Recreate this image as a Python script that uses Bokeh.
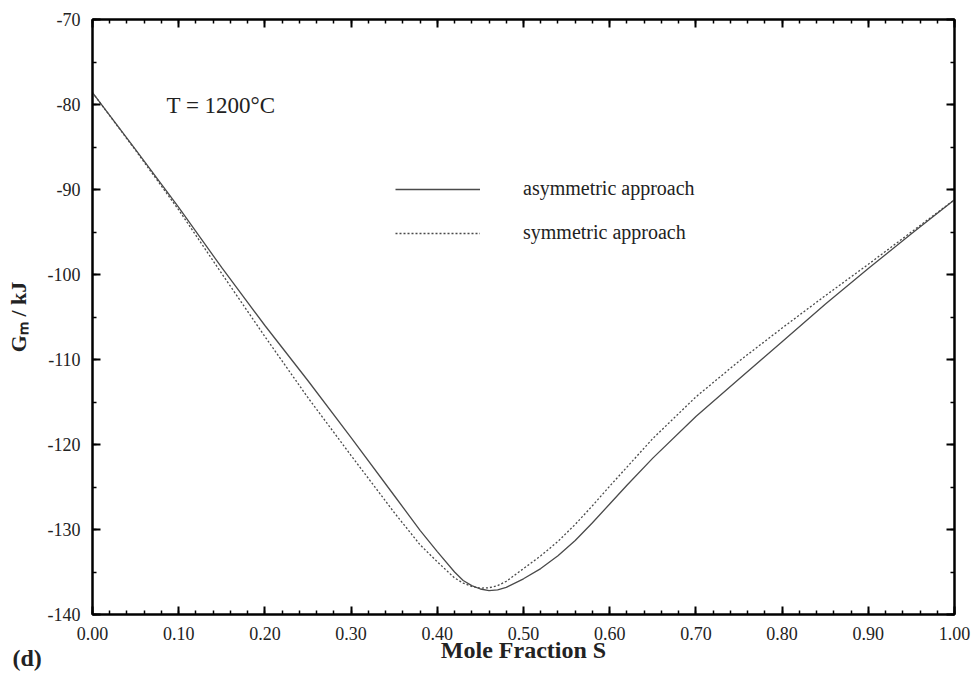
import numpy as np
from bokeh.plotting import figure
from bokeh.models import (Range1d, LinearAxis, SingleIntervalTicker, NumeralTickFormatter,
                          CustomJSTickFormatter, Label, Legend, LegendItem, Title)
from bokeh.embed import file_html
from bokeh.resources import INLINE

# ---- data ----
x_asym = [0.00, 0.05, 0.10, 0.15, 0.20, 0.25, 0.30, 0.35, 0.38, 0.40, 0.42, 0.43, 0.44, 0.45,
          0.46, 0.47, 0.48, 0.50, 0.52, 0.54, 0.56, 0.58, 0.60, 0.62, 0.65, 0.70, 0.75, 0.80,
          0.85, 0.90, 0.95, 1.00]
g_asym = [-78.6, -85.3, -92.1, -99.2, -106.0, -112.5, -119.2, -126.0, -130.1, -132.6, -135.0,
          -136.0, -136.6, -137.0, -137.2, -137.1, -136.8, -135.8, -134.6, -133.1, -131.3,
          -129.2, -127.0, -124.8, -121.6, -116.7, -112.3, -107.9, -103.5, -99.3, -95.2, -91.2]
x_sym = [0.00, 0.05, 0.10, 0.15, 0.20, 0.25, 0.30, 0.35, 0.38, 0.40, 0.42, 0.43, 0.44, 0.45,
         0.46, 0.47, 0.48, 0.50, 0.52, 0.54, 0.56, 0.58, 0.60, 0.65, 0.70, 0.75, 0.80, 0.85,
         0.90, 0.95, 1.00]
g_sym = [-78.6, -85.4, -92.4, -99.9, -107.3, -114.5, -121.3, -128.0, -131.8, -133.8, -135.7,
         -136.3, -136.7, -136.9, -136.85, -136.6, -136.1, -134.6, -133.1, -131.4, -129.4,
         -127.2, -124.9, -119.3, -114.4, -110.2, -106.3, -102.5, -98.8, -95.0, -91.2]
series_names = ["asymmetric approach", "symmetric approach"]
x_title = "Mole Fraction S"
y_title = "G\u2098 / kJ"
temp_text = "T = 1200°C"
panel_tag = "(d)"

SERIF = "Liberation Serif"

p = figure(width=979, height=674, output_backend="svg", toolbar_location=None,
           x_range=Range1d(0, 1), y_range=Range1d(-140, -70),
           min_border_left=92, min_border_right=25, min_border_top=19, min_border_bottom=60)
p.grid.visible = False
p.background_fill_color = "white"
p.border_fill_color = "white"
p.outline_line_color = "black"
p.outline_line_width = 2

xt = SingleIntervalTicker(interval=0.1, num_minor_ticks=5)
yt = SingleIntervalTicker(interval=10, num_minor_ticks=2)

def style(ax):
    ax.axis_line_color = "black"
    ax.axis_line_width = 2
    ax.major_tick_in = 8
    ax.major_tick_out = 0
    ax.minor_tick_in = 4
    ax.minor_tick_out = 0
    ax.major_tick_line_width = 2
    ax.minor_tick_line_width = 1.5
    ax.major_tick_line_color = "black"
    ax.minor_tick_line_color = "black"
    ax.major_label_text_font = SERIF
    ax.major_label_text_font_size = "18px"
    ax.major_label_text_color = "#222222"

p.xaxis.ticker = xt
p.xaxis.formatter = NumeralTickFormatter(format="0.00")
p.yaxis.ticker = yt
p.yaxis.formatter = CustomJSTickFormatter(code="return tick.toFixed(0);")
style(p.xaxis[0])
style(p.yaxis[0])
p.xaxis.major_label_standoff = 12
p.yaxis.major_label_standoff = 12
p.yaxis.axis_label = y_title
p.yaxis.axis_label_text_font = SERIF
p.yaxis.axis_label_text_font_size = "22px"
p.yaxis.axis_label_text_font_style = "bold"
p.yaxis.axis_label_text_color = "#222222"
p.yaxis.axis_label_standoff = 14

blank = CustomJSTickFormatter(code="return '';")
top = LinearAxis(ticker=xt, formatter=blank)
right = LinearAxis(ticker=yt, formatter=blank)
style(top)
style(right)
top.major_label_standoff = 0
right.major_label_standoff = 0
p.add_layout(top, "above")
p.add_layout(right, "right")

r1 = p.line(x_asym, g_asym, line_color="#4a4a4a", line_width=1.3)
r2 = p.line(x_sym, g_sym, line_color="#4a4a4a", line_width=1.3, line_dash="2 2")

legend = Legend(items=[LegendItem(label=series_names[0], renderers=[r1]),
                       LegendItem(label=series_names[1], renderers=[r2])],
                location=(303, 370), orientation="vertical",
                glyph_width=85, glyph_height=20, label_standoff=43, spacing=21,
                padding=0, margin=0, border_line_color=None, background_fill_alpha=0,
                label_text_font=SERIF, label_text_font_size="20px", label_text_color="#222222",
                label_height=20)
p.add_layout(legend, "center")

p.add_layout(Label(x=74, y=509, x_units="screen", y_units="screen", text=temp_text,
                   text_font=SERIF, text_font_size="23px", text_color="#222222",
                   text_baseline="alphabetic"))

# x title and panel tag share one row below the tick labels
xt_title = Title(text=x_title, align="center", vertical_align="top", standoff=-11,
                 text_font=SERIF, text_font_size="24px", text_font_style="bold",
                 text_color="#222222")
tag = Title(text=panel_tag, align="left", vertical_align="top", offset=-80, standoff=-30,
            text_font=SERIF, text_font_size="24px", text_font_style="bold",
            text_color="#222222")
p.add_layout(xt_title, "below")
p.add_layout(tag, "below")

open("out.html", "w").write(file_html(p, INLINE))
